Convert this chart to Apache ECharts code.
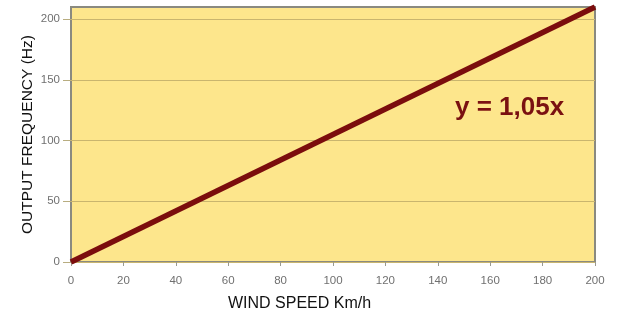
<!DOCTYPE html>
<html>
<head>
<meta charset="utf-8">
<script src="https://cdn.jsdelivr.net/npm/echarts@6/dist/echarts.min.js"></script>
<style>
html, body { margin: 0; padding: 0; background: #fff; }
#main { width: 620px; height: 323px; }
</style>
</head>
<body>
<div id="main"></div>
<script>
var windSpeed = [0, 200];
var frequency = [0, 210];
var xTicks = [0, 20, 40, 60, 80, 100, 120, 140, 160, 180, 200];
var yTicks = [0, 50, 100, 150, 200];

var myChart = echarts.init(document.getElementById('main'));

var lineData = windSpeed.map(function (x, i) {
    return [x, frequency[i]];
});

option = {
    animation: false,
    grid: {
        left: 71,
        right: 25,
        top: 7,
        bottom: 61,
        show: true,
        backgroundColor: '#fde68c',
        borderColor: '#8a8a80',
        borderWidth: 2
    },
    xAxis: {
        type: 'value',
        min: 0,
        max: 200,
        interval: 20,
        axisLine: { show: false },
        axisTick: { show: true, length: 4, lineStyle: { color: '#9a9a90' } },
        splitLine: { show: false },
        axisLabel: {
            color: '#707070',
            fontSize: 11.5,
            fontFamily: 'Liberation Sans',
            margin: 13
        }
    },
    yAxis: {
        type: 'value',
        min: 0,
        max: 210,
        name: 'OUTPUT FREQUENCY (Hz)',
        nameLocation: 'middle',
        nameGap: 35,
        nameMoveOverlap: false,
        nameTextStyle: {
            color: '#111',
            fontSize: 15.5,
            fontFamily: 'Liberation Sans'
        },
        axisLine: { show: false },
        axisTick: { show: true, length: 8, lineStyle: { color: '#b8ad80' }, customValues: yTicks },
        splitLine: { show: true, lineStyle: { color: '#c9b56e', width: 1 } },
        axisLabel: {
            color: '#707070',
            fontSize: 11.5,
            fontFamily: 'Liberation Sans',
            margin: 11,
            customValues: yTicks
        }
    },
    graphic: [
        {
            type: 'text',
            left: 228,
            top: 296,
            style: {
                text: 'WIND SPEED Km/h',
                fill: '#111',
                font: '16px "Liberation Sans"'
            }
        },
        {
            type: 'text',
            left: 455,
            top: 95,
            style: {
                text: 'y = 1,05x',
                fill: '#7a1111',
                font: 'bold 26px "Liberation Sans"'
            }
        }
    ],
    series: [
        {
            type: 'line',
            data: lineData,
            symbol: 'none',
            lineStyle: { color: '#7b0d0d', width: 5.5 },
            z: 5
        }
    ]
};

myChart.setOption(option);
</script>
</body>
</html>
